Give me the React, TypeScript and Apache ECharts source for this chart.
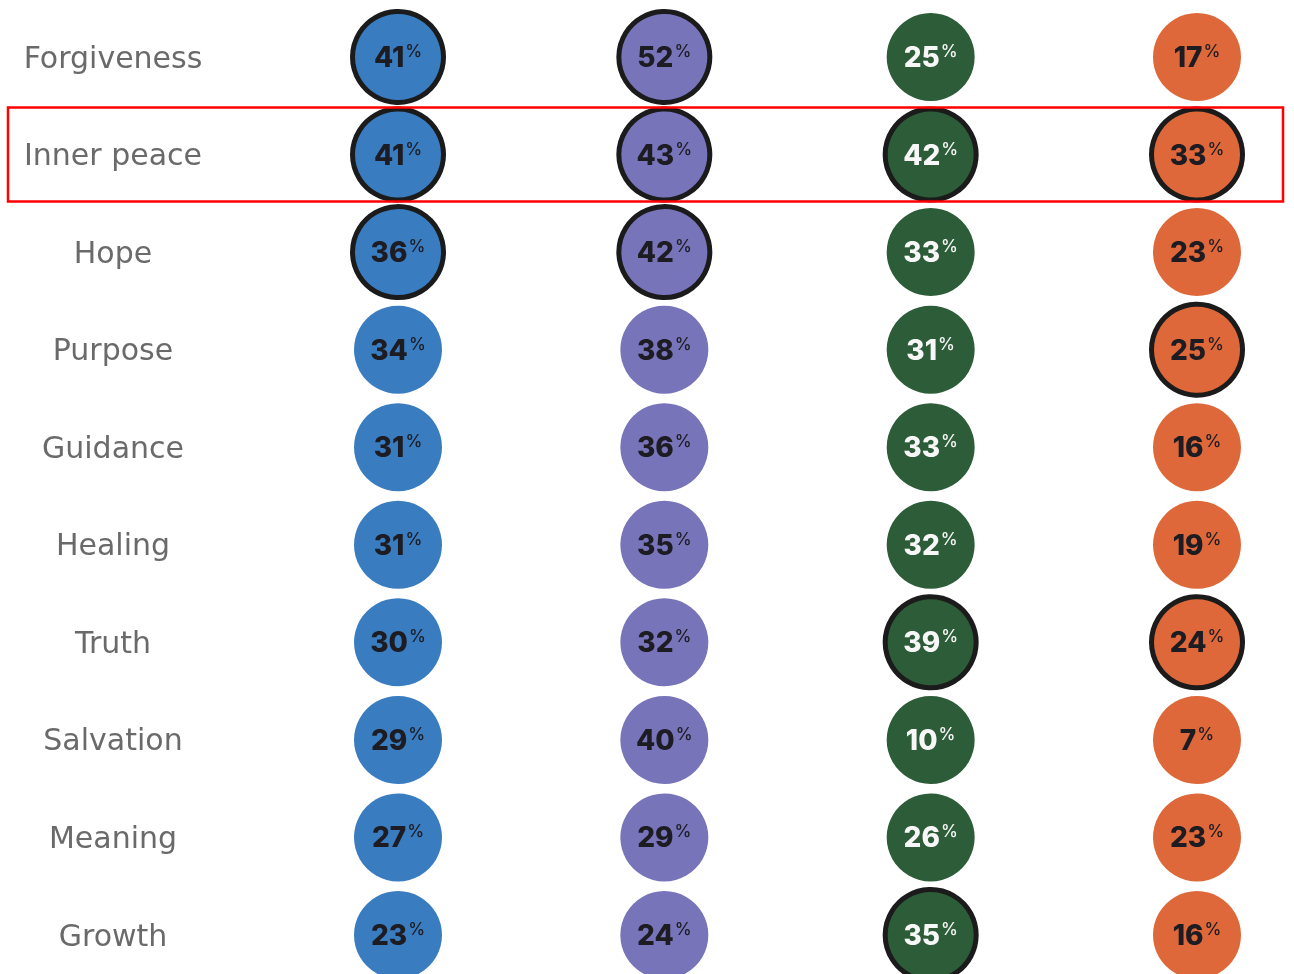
import React, { useEffect, useRef } from "react";
import * as echarts from "echarts";

const categories = ["Forgiveness", "Inner peace", "Hope", "Purpose", "Guidance", "Healing", "Truth", "Salvation", "Meaning", "Growth"];
const columns = ["A", "B", "C", "D"];
const blueValues = [41, 41, 36, 34, 31, 31, 30, 29, 27, 23];
const purpleValues = [52, 43, 42, 38, 36, 35, 32, 40, 29, 24];
const greenValues = [25, 42, 33, 31, 33, 32, 39, 10, 26, 35];
const orangeValues = [17, 33, 23, 25, 16, 19, 24, 7, 23, 16];
// highlighted (outlined) flags per column
const blueHighlight = [1, 1, 1, 0, 0, 0, 0, 0, 0, 0];
const purpleHighlight = [1, 1, 1, 0, 0, 0, 0, 0, 0, 0];
const greenHighlight = [0, 1, 0, 0, 0, 0, 1, 0, 0, 1];
const orangeHighlight = [0, 1, 0, 1, 0, 0, 1, 0, 0, 0];
const highlightedRow = "Inner peace";

const colors = ["#3a7cc0", "#7874ba", "#2d5c39", "#de6839"];
const textColors = ["#1c1c22", "#1c1c22", "#f7f7f7", "#1c1c22"];

export default function App() {
  const ref = useRef<HTMLDivElement>(null);
  useEffect(() => {
    if (!ref.current) return;
    const chart = echarts.init(ref.current, null, { renderer: "svg" });
    const values = [blueValues, purpleValues, greenValues, orangeValues];
    const highlights = [blueHighlight, purpleHighlight, greenHighlight, orangeHighlight];
    const series = values.map((vals, ci) => ({
      type: "scatter",
      data: vals.map((v, ri) => {
        const hl = highlights[ci][ri] === 1;
        return {
          value: [columns[ci], categories[ri], v],
          symbolSize: hl ? 91 : 88,
          itemStyle: hl
            ? { color: colors[ci], borderColor: "#1b1b1b", borderWidth: 5, opacity: 1 }
            : { color: colors[ci], borderWidth: 0, opacity: 1 },
        };
      }),
      label: {
        show: true,
        position: "inside",
        formatter: (p: any) => `{n|${p.value[2]}}{p|%}`,
        rich: {
          n: {
            fontFamily: "Inter",
            fontWeight: 800,
            fontSize: 28,
            color: textColors[ci],
          },
          p: {
            fontFamily: "Inter",
            fontWeight: 500,
            fontSize: 17,
            color: textColors[ci],
            verticalAlign: "top",
            padding: [0, 0, 12, 1],
          },
        },
      },
      emphasis: { disabled: true },
    }));

    chart.setOption({
      animation: false,
      grid: { left: 398, right: 97, top: 57, bottom: 39, containLabel: false },
      xAxis: {
        type: "category",
        data: columns,
        boundaryGap: false,
        show: false,
      },
      yAxis: {
        type: "category",
        data: categories,
        inverse: true,
        boundaryGap: false,
        axisLine: { show: false },
        axisTick: { show: false },
        splitLine: { show: false },
        axisLabel: {
          align: "center",
          margin: 285,
          fontFamily: "DejaVu Sans",
          fontSize: 30,
          color: "#6a6a6a",
        },
      },
      series,
    });

    const yPix = chart.convertToPixel({ yAxisIndex: 0 }, highlightedRow) as number;
    chart.setOption({
      graphic: [
        {
          type: "rect",
          shape: { x: 8, y: yPix - 47, width: 1275, height: 94 },
          style: { fill: "none", stroke: "#ff0000", lineWidth: 2.5 },
          z: 100,
        },
      ],
    });

    return () => chart.dispose();
  }, []);
  return <div ref={ref} style={{ position: "fixed", left: 0, top: 0, width: 1294, height: 974 }} />;
}
